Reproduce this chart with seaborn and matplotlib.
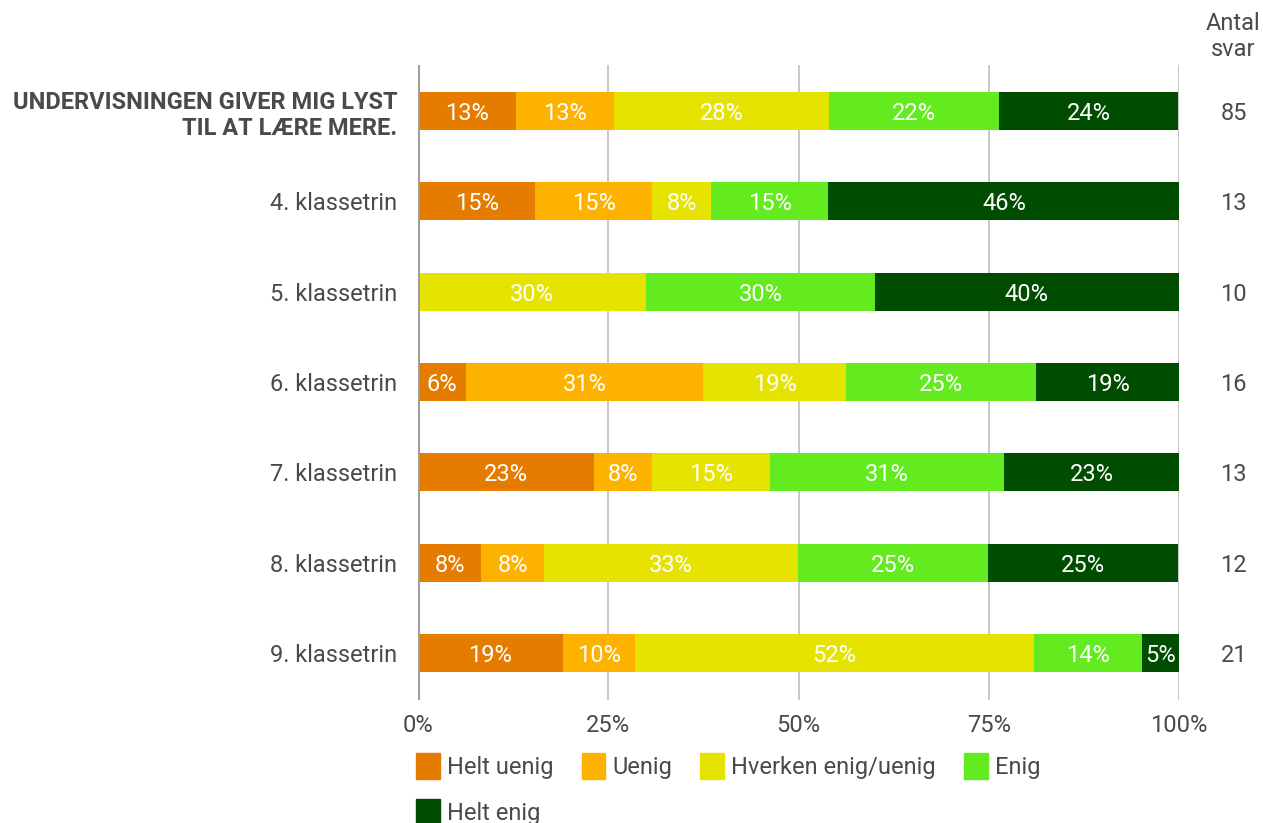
import matplotlib
matplotlib.use("Agg")
import matplotlib.pyplot as plt
import seaborn as sns
import numpy as np
import pandas as pd
from matplotlib.patches import Patch

categories = ["UNDERVISNINGEN GIVER MIG LYST\nTIL AT LÆRE MERE.", "4. klassetrin", "5. klassetrin",
              "6. klassetrin", "7. klassetrin", "8. klassetrin", "9. klassetrin"]
series_names = ["Helt uenig", "Uenig", "Hverken enig/uenig", "Enig", "Helt enig"]
helt_uenig = [12.9, 15.4, 0.0, 6.25, 23.1, 8.3, 19.0]
uenig = [12.9, 15.4, 0.0, 31.25, 7.7, 8.3, 9.5]
hverken = [28.2, 7.7, 30.0, 18.75, 15.4, 33.3, 52.4]
enig = [22.4, 15.4, 30.0, 25.0, 30.8, 25.0, 14.3]
helt_enig = [23.5, 46.2, 40.0, 18.75, 23.1, 25.0, 4.8]
antal_svar = [85, 13, 10, 16, 13, 12, 21]
tick_labels = ["0%", "25%", "50%", "75%", "100%"]
colors = ["#E57C00", "#FDB200", "#E6E300", "#64EB1F", "#004C00"]

sns.set_theme(style="white")
plt.rcParams['font.family'] = ['Roboto', 'DejaVu Sans']
txt = "#4a4a4a"
FS = 17

fig = plt.figure(figsize=(12.63, 8.23), dpi=100)
ax = fig.add_axes([418/1263, 1-700/823, (1179-418)/1263, (700-65)/823])

series = [helt_uenig, uenig, hverken, enig, helt_enig]
df = pd.DataFrame({n: s for n, s in zip(series_names, series)})
df["cat"] = categories
cum = df[series_names].cumsum(axis=1)

# gridlines
for v in [25, 50, 75, 100]:
    ax.axvline(v, color="#bdbdbd", lw=1.2, zorder=0)
ax.axvline(0, color="#9e9e9e", lw=2.2, zorder=3)

# overlapping cumulative bars, drawn widest first
for i in range(len(series_names) - 1, -1, -1):
    d = pd.DataFrame({"cat": categories, "val": cum[series_names[i]].values})
    sns.barplot(data=d, y="cat", x="val", orient="h", color=colors[i],
                width=0.42, saturation=1, ax=ax, zorder=2, linewidth=0)

# segment labels
for r in range(len(categories)):
    left = 0.0
    for i, n in enumerate(series_names):
        v = df[n].iloc[r]
        if v > 0:
            ax.text(left + v / 2, r, f"{round(v):.0f}%", ha="center", va="center_baseline",
                    color="white", fontsize=FS, zorder=5)
        left += v

ax.set_xlim(0, 100)
ax.set_ylim(6.52, -0.51)
ax.set_xticks([0, 25, 50, 75, 100])
ax.set_xticklabels(tick_labels, fontsize=FS, color=txt)
ax.tick_params(axis="x", length=0, pad=10)
ax.set_yticks(range(len(categories)))
ylabels = ax.set_yticklabels(categories, fontsize=FS, color=txt)
ylabels[0].set_fontweight("bold")
ax.tick_params(axis="y", length=0, pad=15)
ax.set_xlabel("")
ax.set_ylabel("")
for s in ax.spines.values():
    s.set_visible(False)

# Antal svar column
fig.text(1233/1263, 1-24/823, "Antal", ha="center", va="center", fontsize=FS, color=txt)
fig.text(1233/1263, 1-50/823, "svar", ha="center", va="center", fontsize=FS, color=txt)
for r, n in enumerate(antal_svar):
    ax.text(1.072, r, str(n), transform=ax.get_yaxis_transform(), ha="center",
            va="center_baseline", fontsize=FS, color=txt)

handles = [Patch(facecolor=c, edgecolor=c, label=n) for c, n in zip(colors, series_names)]
order = [0, 4, 1, 2, 3]
fig.legend(handles=[handles[k] for k in order], loc="upper left",
           bbox_to_anchor=(416/1263, 1-753/823), ncol=4,
           frameon=False, fontsize=FS, handlelength=1.0, handleheight=1.3,
           handletextpad=0.3, columnspacing=1.2, labelspacing=0.85, labelcolor=txt,
           borderaxespad=0, borderpad=0)

fig.savefig("out.png", dpi=100)
